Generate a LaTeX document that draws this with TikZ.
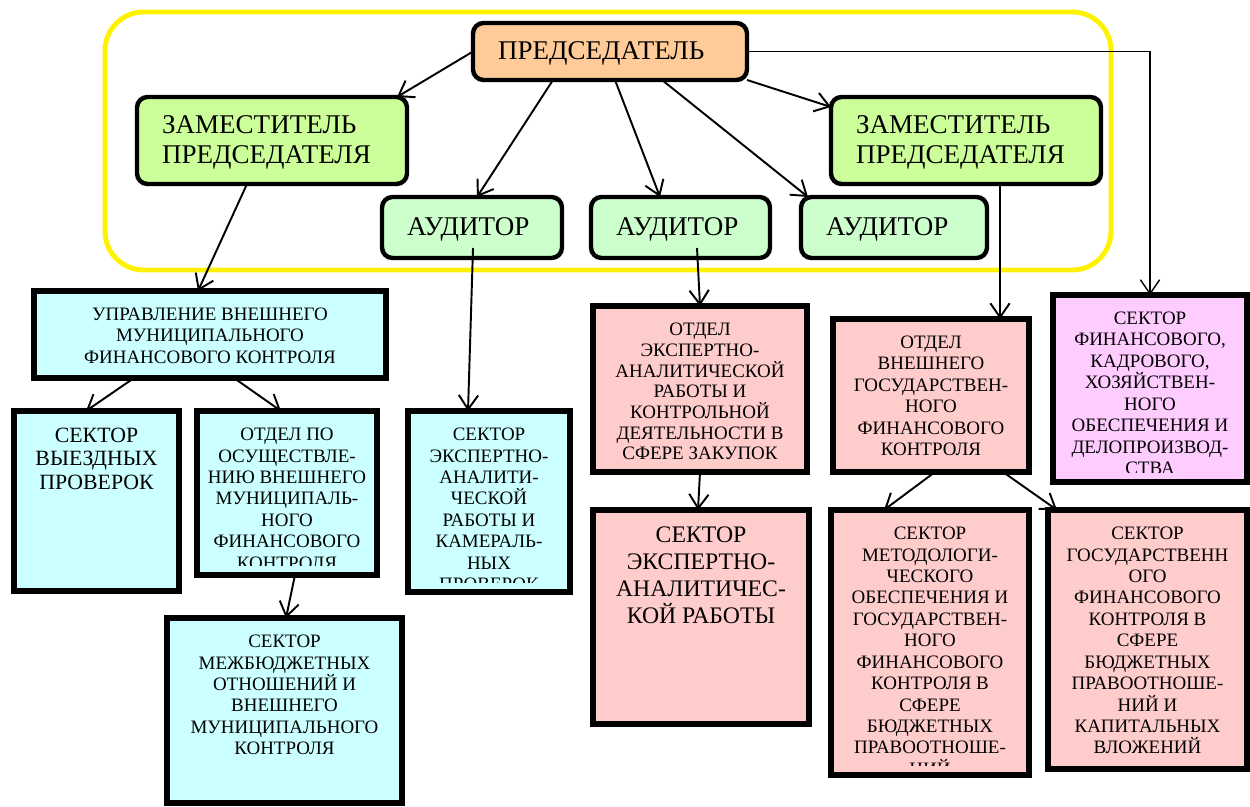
\documentclass[tikz,border=0pt]{standalone}
\usepackage{fontspec}
\setmainfont{Liberation Serif}
\usetikzlibrary{arrows.meta,calc}

\definecolor{chairfill}{HTML}{FFCC99}
\definecolor{depfill}{HTML}{CCFF99}
\definecolor{audfill}{HTML}{CCFFCC}
\definecolor{munfill}{HTML}{CCFFFF}
\definecolor{statefill}{HTML}{FFCCCC}
\definecolor{servfill}{HTML}{FFCCFF}

\newcommand\bigsz{\fontsize{15.4}{17}\selectfont}
\newcommand\midsz{\fontsize{13.5}{15.3}\selectfont}
\newcommand\vysz{\fontsize{12.4}{13.4}\selectfont}
\newcommand\smallsz{\fontsize{10.8}{12.2}\selectfont}
\newcommand\tightsz{\fontsize{10.8}{11.8}\selectfont}

\tikzset{
  cell/.style n args={4}{at={(#1,#2)}, anchor=north west,
    minimum width={(#3-#1)*0.02cm}, minimum height={(#4-#2)*0.02cm}},
  box/.style={draw, line width=3.1pt, inner sep=0pt, outer sep=0pt},
  round box/.style={draw, line width=2.5pt, inner sep=0pt, outer sep=0pt, rounded corners=6pt},
  inner text/.style={inner sep=0pt, minimum width=0pt, minimum height=0pt},
  ctext/.style 2 args={path picture={
    \clip ($(path picture bounding box.south west)+(0,-9.5)$) rectangle (path picture bounding box.north east);
    \node[inner text, anchor=north, align=center, font=#1] at ($(path picture bounding box.north)+(0,17)$) {#2};}},
  ltext/.style={path picture={
    \node[inner text, anchor=west, align=left, font=\bigsz] at ($(path picture bounding box.west)+(25,2)$) {#1};}},
  arr/.style={-{Straight Barb[length=8pt,width=11pt]}, line width=1.1pt},
}

\begin{document}
\begin{tikzpicture}[x=0.02cm, y=-0.02cm]
 \useasboundingbox (0,0) rectangle (1250,807);

 % management frame
 \draw[yellow, line width=2.8pt, rounded corners=22pt] (105,12) rectangle (1111,270);

 \node (chair) [round box, fill=chairfill, cell={473}{23}{747}{80}, ltext={ПРЕДСЕДАТЕЛЬ}] {};
 \node (depL) [round box, fill=depfill, cell={137}{97}{407}{184}, ltext={ЗАМЕСТИТЕЛЬ\\ПРЕДСЕДАТЕЛЯ}] {};
 \node (depR) [round box, fill=depfill, cell={831}{97}{1101}{184}, ltext={ЗАМЕСТИТЕЛЬ\\ПРЕДСЕДАТЕЛЯ}] {};
 \node (aud1) [round box, fill=audfill, cell={382}{197}{562}{258}, ltext={АУДИТОР}] {};
 \node (aud2) [round box, fill=audfill, cell={591}{197}{770}{258}, ltext={АУДИТОР}] {};
 \node (aud3) [round box, fill=audfill, cell={801}{197}{987}{258}, ltext={АУДИТОР}] {};

 % municipal control
 \node (upr) [box, fill=munfill, cell={34}{291}{386}{378},
   ctext={\smallsz}{УПРАВЛЕНИЕ ВНЕШНЕГО\\МУНИЦИПАЛЬНОГО\\ФИНАНСОВОГО КОНТРОЛЯ}] {};
 \node (vyezd) [box, fill=munfill, cell={14}{411}{179}{591},
   ctext={\vysz}{СЕКТОР\\ВЫЕЗДНЫХ\\ПРОВЕРОК}] {};
 \node (otdpo) [box, fill=munfill, cell={197}{411}{377}{575},
   ctext={\smallsz}{ОТДЕЛ ПО\\ОСУЩЕСТВЛЕ-\\НИЮ ВНЕШНЕГО\\МУНИЦИПАЛЬ-\\НОГО\\ФИНАНСОВОГО\\КОНТРОЛЯ}] {};
 \node (sekc) [box, fill=munfill, cell={408}{411}{570}{592},
   ctext={\smallsz}{СЕКТОР\\ЭКСПЕРТНО-\\АНАЛИТИ-\\ЧЕСКОЙ\\РАБОТЫ И\\КАМЕРАЛЬ-\\НЫХ\\ПРОВЕРОК}] {};
 \node (mezh) [box, fill=munfill, cell={167}{618}{402}{803},
   ctext={\smallsz}{СЕКТОР\\МЕЖБЮДЖЕТНЫХ\\ОТНОШЕНИЙ И\\ВНЕШНЕГО\\МУНИЦИПАЛЬНОГО\\КОНТРОЛЯ}] {};

 % state control
 \node (otde) [box, fill=statefill, cell={593}{306}{807}{472},
   ctext={\tightsz}{ОТДЕЛ\\ЭКСПЕРТНО-\\АНАЛИТИЧЕСКОЙ\\РАБОТЫ И\\КОНТРОЛЬНОЙ\\ДЕЯТЕЛЬНОСТИ В\\СФЕРЕ ЗАКУПОК}] {};
 \node (sekte) [box, fill=statefill, cell={593}{510}{809}{724},
   ctext={\midsz}{СЕКТОР\\ЭКСПЕРТНО-\\АНАЛИТИЧЕС-\\КОЙ РАБОТЫ}] {};
 \node (otdv) [box, fill=statefill, cell={833}{319}{1029}{472},
   ctext={\smallsz}{ОТДЕЛ\\ВНЕШНЕГО\\ГОСУДАРСТВЕН-\\НОГО\\ФИНАНСОВОГО\\КОНТРОЛЯ}] {};
 \node (metod) [box, fill=statefill, cell={831}{510}{1029}{775},
   ctext={\smallsz}{СЕКТОР\\МЕТОДОЛОГИ-\\ЧЕСКОГО\\ОБЕСПЕЧЕНИЯ И\\ГОСУДАРСТВЕН-\\НОГО\\ФИНАНСОВОГО\\КОНТРОЛЯ В\\СФЕРЕ\\БЮДЖЕТНЫХ\\ПРАВООТНОШЕ-\\НИЙ}] {};
 \node (gos) [box, fill=statefill, cell={1048}{510}{1247}{769},
   ctext={\smallsz}{СЕКТОР\\ГОСУДАРСТВЕНН\\ОГО\\ФИНАНСОВОГО\\КОНТРОЛЯ В\\СФЕРЕ\\БЮДЖЕТНЫХ\\ПРАВООТНОШЕ-\\НИЙ И\\КАПИТАЛЬНЫХ\\ВЛОЖЕНИЙ}] {};
 \node (fin) [box, fill=servfill, cell={1053}{295}{1247}{482},
   ctext={\smallsz}{СЕКТОР\\ФИНАНСОВОГО,\\КАДРОВОГО,\\ХОЗЯЙСТВЕН-\\НОГО\\ОБЕСПЕЧЕНИЯ И\\ДЕЛОПРОИЗВОД-\\СТВА}] {};

 % links
 \draw[arr] (chair.west) -- ($(depL.north east)+(-10,0)$);
 \draw[arr] ($(chair.south west)+(80,0)$) -- ($(aud1.north west)+(95,0)$);
 \draw[arr] ($(chair.south west)+(142,0)$) -- ($(aud2.north west)+(69,0)$);
 \draw[arr] ($(chair.south west)+(189,0)$) -- ($(aud3.north west)+(7,0)$);
 \draw[arr] (chair.south east) -- ($(depR.north west)+(0,10)$);
 \draw[arr, line width=0.8pt] (chair.east) -| (fin.north);

 \draw[arr] ($(depL.south west)+(110,0)$) -- ($(upr.north west)+(164,0)$);
 \draw[arr] ($(aud1.south west)+(91,-10)$) -- ($(sekc.north west)+(60,0)$);
 \draw[arr] ($(aud2.south west)+(106,-10)$) -- ($(otde.north west)+(107,0)$);
 \draw[arr] ($(depR.south west)+(169,0)$) -- ($(otdv.north west)+(167,0)$);

 \draw[arr] ($(upr.south west)+(100,0)$) -- ($(vyezd.north west)+(72,0)$);
 \draw[arr] ($(upr.south west)+(200,0)$) -- ($(otdpo.north west)+(84,0)$);
 \draw[arr] ($(otdpo.south west)+(98,0)$) -- ($(mezh.north west)+(119,0)$);
 \draw[arr] ($(otde.south west)+(107,0)$) -- ($(sekte.north west)+(105,0)$);
 \draw[arr] ($(otdv.south west)+(102,0)$) -- ($(metod.north west)+(53,0)$);
 \draw[arr] ($(otdv.south west)+(170,0)$) -- ($(gos.north west)+(9,0)$);
\end{tikzpicture}
\end{document}
